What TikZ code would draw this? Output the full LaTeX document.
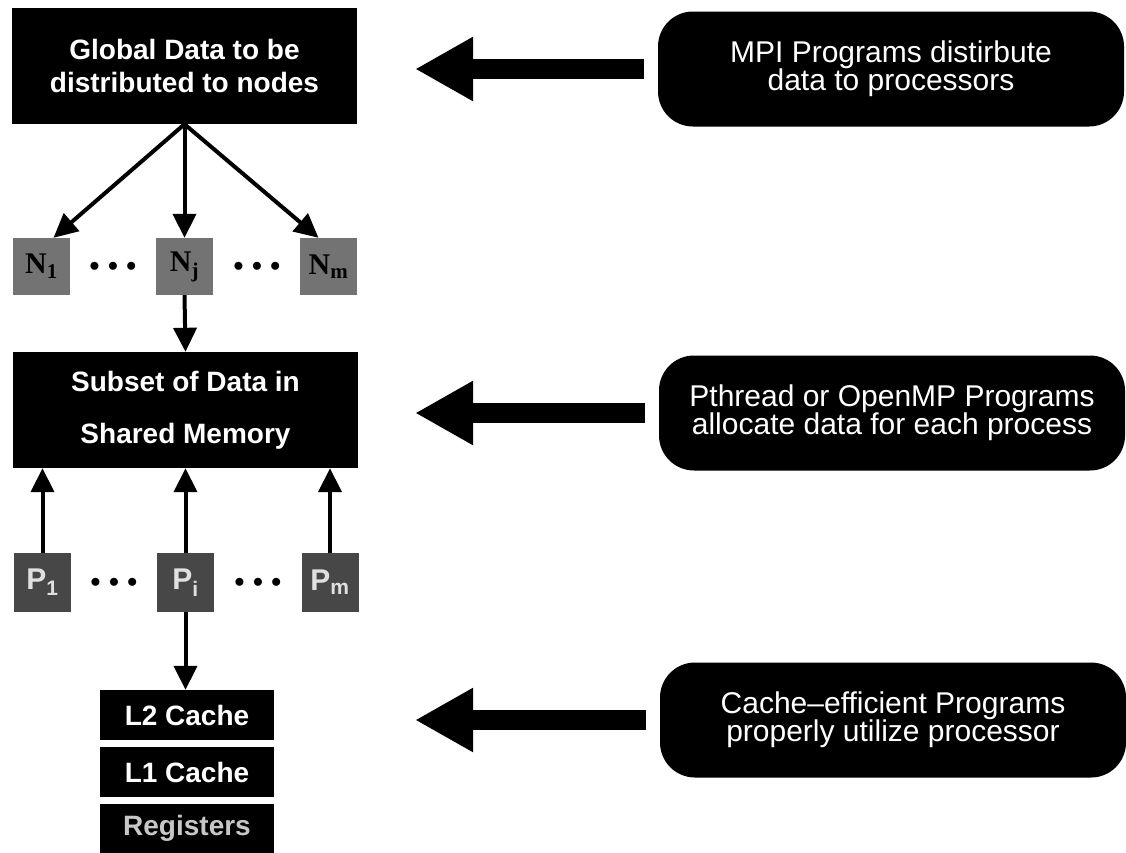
\documentclass[tikz,border=0pt]{standalone}
\usepackage{fontspec}
\setmainfont{Liberation Sans}
\newfontfamily\boxserif{Liberation Serif}
\usepackage{tikz}
\usetikzlibrary{positioning, arrows.meta}
\tikzset{
    blackbox/.style={fill=black, text=white, align=center, inner sep=0pt,
        font=\fontsize{28}{33}\selectfont\bfseries},
    note/.style={fill=black, text=white, rounded corners=35pt, align=center, inner sep=0pt,
        minimum width=466pt, minimum height=115pt, font=\fontsize{30}{28}\selectfont},
    nbox/.style={fill=black!55, minimum size=57pt, inner sep=0pt,
        font=\fontsize{30}{30}\selectfont\boxserif\bfseries},
    pbox/.style={fill=black!72, text=black!12, minimum width=57pt, minimum height=59pt,
        inner sep=0pt, font=\fontsize{30}{30}\selectfont\bfseries},
    flow/.style={line width=4pt, -{Triangle[width=23pt,length=24pt]}},
    bigarrow/.style={line width=20pt, -{Triangle[width=60pt,length=58pt]}},
    dots/.style={font=\fontsize{22}{22}\selectfont},
}

\begin{document}
\begin{tikzpicture}[x=1pt, y=1pt]
    \useasboundingbox (0,0) rectangle (1126,-852);

    % left column: data going down the hierarchy
    \node[blackbox, minimum width=345pt, minimum height=116pt] (global) at (184.5,-66) {Global Data to be\\distributed to nodes};

    \node[nbox] (n1) at (41.5,-266.5) {N\textsubscript{1}};
    \node[nbox] (nj) at (184.5,-266.5) {N\textsubscript{j}};
    \node[nbox] (nm) at (328.5,-266.5) {N\textsubscript{m}};
    \node[dots] (ndots1) at (113,-266.5) {$\bullet\,\bullet\,\bullet$};
    \node[dots] (ndots2) at (257,-266.5) {$\bullet\,\bullet\,\bullet$};

    \draw[flow] (global.south) -- ([xshift=12pt]n1.north);
    \draw[flow] (global.south) -- (nj.north);
    \draw[flow] (global.south) -- ([xshift=-10pt]nm.north);

    \node[blackbox, minimum width=345pt, minimum height=116pt] (shared) at (185.5,-410) {Subset of Data in\\[19pt]Shared Memory};
    \draw[flow] (nj.south) -- (shared.north);

    \node[pbox] (p1) at (42.5,-582.5) {P\textsubscript{1}};
    \node[pbox] (pi) at (185.5,-582.5) {P\textsubscript{i}};
    \node[pbox] (pm) at (330,-582.5) {P\textsubscript{m}};
    \node[dots] (pdots1) at (114,-582.5) {$\bullet\,\bullet\,\bullet$};
    \node[dots] (pdots2) at (258,-582.5) {$\bullet\,\bullet\,\bullet$};

    \draw[flow] (p1.north) -- (p1.north |- shared.south);
    \draw[flow] (pi.north) -- (pi.north |- shared.south);
    \draw[flow] (pm.north) -- (pm.north |- shared.south);

    \node[blackbox, minimum width=174pt, minimum height=50pt] (l2) at (187,-715) {L2 Cache};
    \node[blackbox, minimum width=174pt, minimum height=50pt, below=7pt of l2] (l1) {L1 Cache};
    \node[blackbox, minimum width=174pt, minimum height=50pt, below=6pt of l1, text=black!22] (regs) {Registers};
    \draw[flow] (pi.south) -- (pi.south |- l2.north);

    % right column: what the programs do
    \coordinate (tip) at (415,0);
    \node[note] (mpi) at (891,-69) {MPI Programs distirbute\\data to processors};
    \node[note] (thr) at (892,-413) {Pthread or OpenMP Programs\\allocate data for each process};
    \node[note] (cef) at (893,-720) {Cache--efficient Programs\\properly utilize processor};

    \draw[bigarrow] ([xshift=-14pt]mpi.west) -- (mpi.west -| tip);
    \draw[bigarrow] ([xshift=-14pt]thr.west) -- (thr.west -| tip);
    \draw[bigarrow] ([xshift=-14pt]cef.west) -- (cef.west -| tip);
\end{tikzpicture}
\end{document}
